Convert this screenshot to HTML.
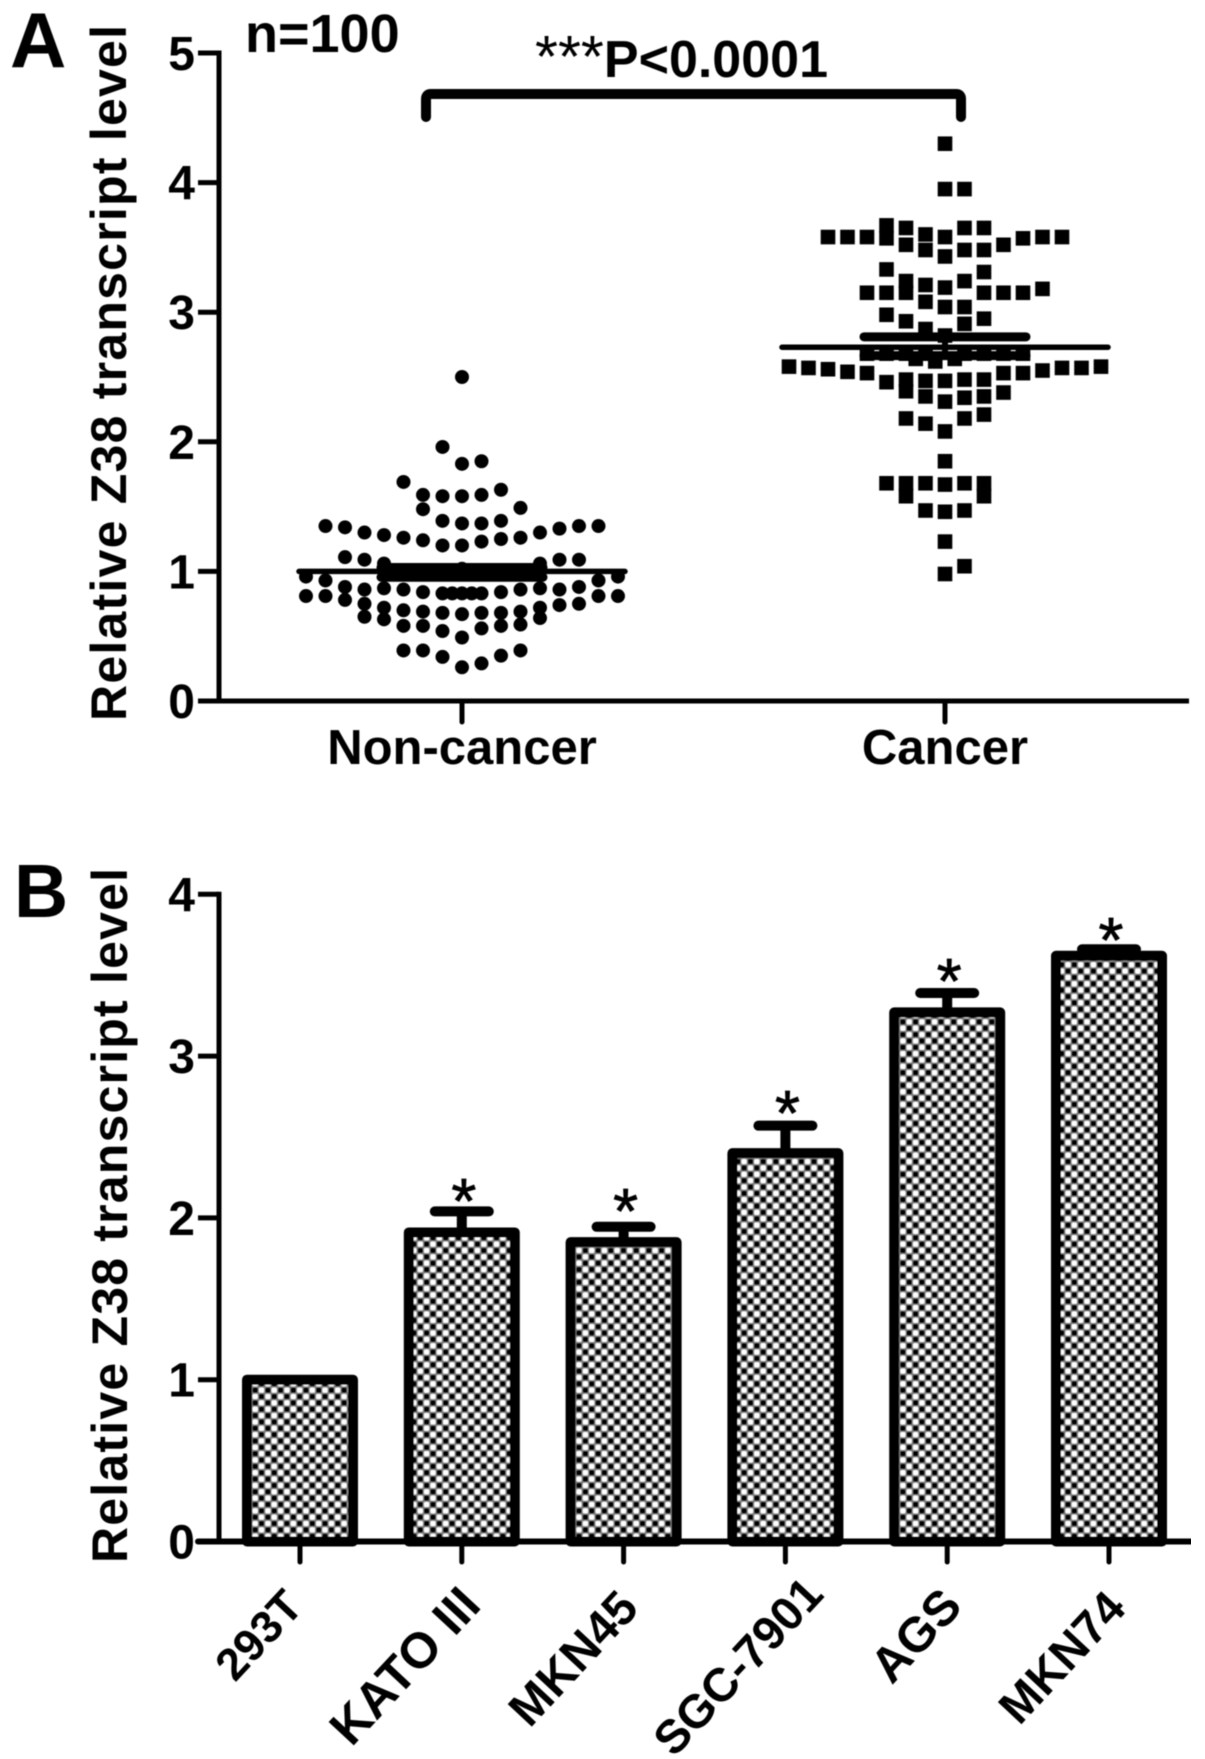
<!DOCTYPE html>
<html lang="en">
<head>
<meta charset="utf-8">
<title>Z38 transcript level</title>
<style>
html,body{margin:0;padding:0;background:#fff;}
svg{display:block;}
text{font-family:"Liberation Sans",Arial,sans-serif;font-weight:bold;fill:#050505;}
</style>
</head>
<body>
<svg id="figure" xmlns="http://www.w3.org/2000/svg" width="1205" height="1759" viewBox="0 0 1205 1759">
<defs>
<pattern id="dot-fill" patternUnits="userSpaceOnUse" x="252" y="1387" width="12.7" height="12.7">
<rect width="12.7" height="12.7" fill="#808080"/>
<rect x="0.6" y="0.6" width="5.2" height="5.2" rx="1.5" fill="#000"/>
<rect x="6.9" y="0.6" width="5.2" height="5.2" rx="1.5" fill="#fff"/>
<rect x="0.6" y="6.9" width="5.2" height="5.2" rx="1.5" fill="#fff"/>
<rect x="6.9" y="6.9" width="5.2" height="5.2" rx="1.5" fill="#000"/>
</pattern>
<filter id="soft" x="0" y="0" width="100%" height="100%"><feGaussianBlur stdDeviation="0.55"/></filter>
</defs>
<rect width="1205" height="1759" fill="#fff"/>
<g id="root" filter="url(#soft)">
<text x="10" y="67" font-size="78">A</text>
<text x="14" y="917" font-size="75">B</text>
<text x="245" y="52" font-size="54">n=100</text>
<text x="535" y="77" font-size="52"><tspan font-weight="normal" font-size="59">***</tspan>P&lt;0.0001</text>
<path d="M426 117 V99 Q426 94 431 94 H956 Q961 94 961 99 V117" fill="none" stroke="#000" stroke-width="10" stroke-linecap="round"/>
<text transform="translate(126 721) rotate(-90)" font-size="50" textLength="696" lengthAdjust="spacing">Relative Z38 transcript level</text>
<text transform="translate(127 1563) rotate(-90)" font-size="50" textLength="695" lengthAdjust="spacing">Relative Z38 transcript level</text>
<g id="panel-a"></g>
<g id="panel-b"></g>
</g>
</svg>
<script>
/* Panel A data */
const scatterCategories = ['Non-cancer', 'Cancer'];
const scatterTicks = [0, 1, 2, 3, 4, 5];
const nonCancerValues = [
  2.50,1.83,1.58,1.37,1.20,1.02,0.83,0.67,0.49,0.26,
  1.96,1.58,1.39,1.20,1.00,0.83,0.68,0.54,0.34,
  1.85,1.59,1.37,1.23,1.00,0.83,0.68,0.56,0.29,
  1.59,1.48,1.24,1.00,0.84,0.69,0.58,0.39,
  1.63,1.39,1.25,1.00,0.84,0.68,0.58,0.35,
  1.69,1.26,1.00,0.86,0.70,0.58,0.39,
  1.49,1.26,1.00,0.86,0.69,0.59,0.39,
  1.28,1.06,0.87,0.72,0.63,
  1.30,1.06,0.87,0.72,0.64,
  1.30,1.09,0.86,0.75,0.65,
  1.33,1.09,0.86,0.74,
  1.34,1.11,0.88,0.78,
  1.35,1.09,0.88,0.75,
  1.35,0.93,0.81,
  1.35,0.93,0.81,
  0.96,0.81,
  0.96,0.81,
  0.83,0.83
];
const nonCancerSlots = [
  0,0,0,0,0,0,0,0,0,0,
  -1,-1,-1,-1,-1,-1,-1,-1,-1,
  1,1,1,1,1,1,1,1,1,
  -2,-2,-2,-2,-2,-2,-2,-2,
  2,2,2,2,2,2,2,2,
  -3,-3,-3,-3,-3,-3,-3,
  3,3,3,3,3,3,3,
  -4,-4,-4,-4,-4,
  4,4,4,4,4,
  -5,-5,-5,-5,-5,
  5,5,5,5,
  -6,-6,-6,-6,
  6,6,6,6,
  -7,-7,-7,
  7,7,7,
  -8,-8,
  8,8,
  -0.5,0.5
];
const cancerValues = [
  4.30,3.95,3.95,
  3.58,3.58,3.58,3.67,3.57,3.65,3.52,3.60,3.48,3.58,3.43,3.65,3.48,3.65,3.48,3.52,3.57,3.58,3.58,
  3.33,3.24,3.15,3.21,3.08,3.19,3.04,3.24,3.04,3.31,3.15,3.15,3.15,3.15,3.15,3.18,
  2.98,2.93,2.87,2.82,2.91,2.95,
  2.68,2.68,2.68,2.68,2.68,2.68,2.68,2.68,2.64,2.62,2.64,
  2.58,2.57,2.56,2.54,2.53,2.46,2.48,2.39,2.47,2.35,2.47,2.31,2.48,2.34,2.48,2.35,2.53,2.38,2.53,2.55,2.57,2.57,2.58,
  2.18,2.14,2.08,2.18,2.21,1.85,
  1.68,1.68,1.58,1.68,1.47,1.67,1.46,1.68,1.47,1.68,1.58,
  1.23,0.98,1.04
];
const cancerSlots = [
  0,0,1,
  -6,-5,-4,-3,-3,-2,-2,-1,-1,0,0,1,1,2,2,3,4,5,6,
  -3,-2,-2,-1,-1,0,0,1,1,2,2,-4,-3,3,4,5,
  -3,-2,-1,0,1,2,
  -4,-3,-2,-1,1,2,3,4,-1.5,-0.5,0.5,
  -8,-7,-6,-5,-4,-3,-2,-2,-1,-1,0,0,1,1,2,2,3,3,4,5,6,7,8,
  -2,-1,0,1,2,0,
  -3,-2,-2,-1,-1,0,0,1,1,2,2,
  0,0,1
];
const scatterMeans = [1.00, 2.73];
const scatterSemUpper = [1.03, 2.81];
const scatterSemLower = [0.955, 2.665];

/* Panel B data */
const barCategories = ['293T', 'KATO III', 'MKN45', 'SGC-7901', 'AGS', 'MKN74'];
const barTicks = [0, 1, 2, 3, 4];
const barValues = [1.00, 1.91, 1.85, 2.40, 3.27, 3.62];
const barErrorTops = [1.00, 2.04, 1.945, 2.57, 3.39, 3.66];
const barStars = ['', '*', '*', '*', '*', '*'];
const barStarLevels = [0, 2.166, 2.104, 2.71, 3.526, 3.779];

const SVGNS = 'http://www.w3.org/2000/svg';
function make(parent, tag, attrs, text) {
  const el = document.createElementNS(SVGNS, tag);
  for (const k in attrs) el.setAttribute(k, attrs[k]);
  if (text !== undefined) el.textContent = text;
  parent.appendChild(el);
  return el;
}

/* Panel A axes */
const panelA = document.getElementById('panel-a');
const aY = v => 701 - v * 129.6;
const aX = i => 462 + i * 483;
const slotW = 19.5;

scatterMeans.forEach((m, i) => {
  const meanLine = make(panelA, 'line', {x1: aX(i) - 163, x2: aX(i) + 163, y1: aY(m), y2: aY(m), stroke: '#000', 'stroke-width': 5.5, 'stroke-linecap': 'round'});
  
  
});
nonCancerValues.forEach((v, i) => {
  const dot = make(panelA, 'circle', {cx: aX(0) + nonCancerSlots[i] * slotW, cy: aY(v), r: 7, fill: '#000'});
  
  
});
cancerValues.forEach((v, i) => {
  const sq = make(panelA, 'rect', {x: aX(1) + cancerSlots[i] * slotW - 7.3, y: aY(v) - 7.3, width: 14.6, height: 14.6, fill: '#000'});
  
  
});
scatterCategories.forEach((c, i) => {
  [scatterSemUpper[i], scatterSemLower[i]].forEach(s => {
    const cap = make(panelA, 'line', {x1: aX(i) - 81, x2: aX(i) + 81, y1: aY(s), y2: aY(s), stroke: '#000', 'stroke-width': 9, 'stroke-linecap': 'round'});
    
    
  });
  const stem = make(panelA, 'line', {x1: aX(i), x2: aX(i), y1: aY(scatterSemUpper[i]), y2: aY(scatterSemLower[i]), stroke: '#000', 'stroke-width': 6});
  
  
  const tick = make(panelA, 'line', {x1: aX(i), x2: aX(i), y1: 701, y2: 722, stroke: '#000', 'stroke-width': 5, 'stroke-linecap': 'round'});
  
  
  const label = make(panelA, 'text', {x: aX(i), y: 764, 'font-size': 49, 'text-anchor': 'middle'}, c);
  
  
});
scatterTicks.forEach(t => {
  const tick = make(panelA, 'line', {x1: 198, x2: 219, y1: aY(t), y2: aY(t), stroke: '#000', 'stroke-width': 5});
  
  
  const label = make(panelA, 'text', {x: 195, y: aY(t) + 17, 'font-size': 48, 'text-anchor': 'end'}, String(t));
  
  
});
const aYAxis = make(panelA, 'line', {x1: 219, x2: 219, y1: aY(5) - 2.5, y2: 703, stroke: '#000', 'stroke-width': 5});


const aXAxis = make(panelA, 'line', {x1: 198, x2: 1189, y1: 701, y2: 701, stroke: '#000', 'stroke-width': 5});



/* Panel B axes */
const panelB = document.getElementById('panel-b');
const bY = v => 1541.5 - v * 161.8;
const bX = i => 300 + i * 161.8;
const barHalf = 53;

barCategories.forEach((c, i) => {
  if (barErrorTops[i] > barValues[i]) {
    const stem = make(panelB, 'line', {x1: bX(i), x2: bX(i), y1: bY(barErrorTops[i]), y2: bY(barValues[i]), stroke: '#000', 'stroke-width': 10});
    
    
    const cap = make(panelB, 'line', {x1: bX(i) - 27, x2: bX(i) + 27, y1: bY(barErrorTops[i]), y2: bY(barErrorTops[i]), stroke: '#000', 'stroke-width': 10, 'stroke-linecap': 'round'});
    
    
  }
  const bar = make(panelB, 'rect', {x: bX(i) - barHalf, y: bY(barValues[i]), width: barHalf * 2, height: 1541.5 - bY(barValues[i]), fill: 'url(#dot-fill)', stroke: '#000', 'stroke-width': 10, 'stroke-linejoin': 'round'});
  
  
  if (barStars[i]) {
    const star = make(panelB, 'text', {x: bX(i) + 2, y: bY(barStarLevels[i]) + 32, 'font-size': 64, 'text-anchor': 'middle', style: 'font-weight:normal;stroke:#050505;stroke-width:0.8'}, barStars[i]);
    
    
  }
  const tick = make(panelB, 'line', {x1: bX(i), x2: bX(i), y1: 1541, y2: 1562, stroke: '#000', 'stroke-width': 5, 'stroke-linecap': 'round'});
  
  
  const labelLayout = {
    '293T': [5, 1608, 45],
    'KATO III': [21, 1607, 50],
    'MKN45': [17, 1610, 48],
    'SGC-7901': [40, 1596, 47],
    'AGS': [17, 1608, 49],
    'MKN74': [19, 1610, 47]
  }[c];
  const label = make(panelB, 'text', {'font-size': labelLayout[2], 'text-anchor': 'end', transform: 'translate(' + (bX(i) + labelLayout[0]) + ' ' + labelLayout[1] + ') rotate(-47)'}, c);
  
  
});
barTicks.forEach(t => {
  const tick = make(panelB, 'line', {x1: 198, x2: 219, y1: bY(t), y2: bY(t), stroke: '#000', 'stroke-width': 5});
  
  
  const label = make(panelB, 'text', {x: 195, y: bY(t) + 17, 'font-size': 48, 'text-anchor': 'end'}, String(t));
  
  
});
const bYAxis = make(panelB, 'line', {x1: 219, x2: 219, y1: bY(4) - 2.5, y2: 1544, stroke: '#000', 'stroke-width': 5});


const bXAxis = make(panelB, 'line', {x1: 198, x2: 1191, y1: 1541.5, y2: 1541.5, stroke: '#000', 'stroke-width': 6, 'stroke-linecap': 'round'});


</script>
</body>
</html>
